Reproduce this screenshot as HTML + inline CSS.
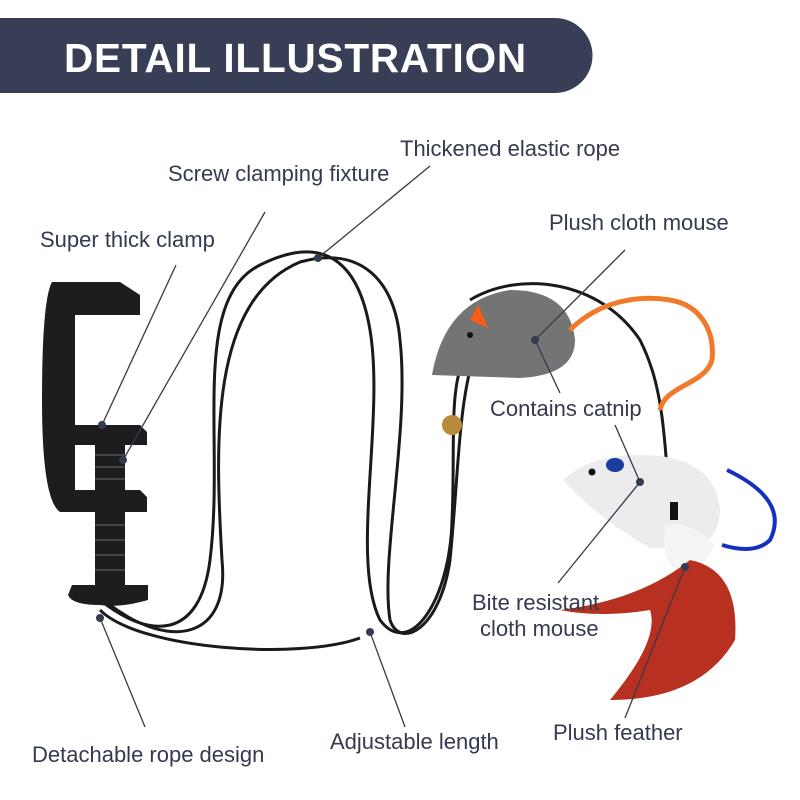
<!DOCTYPE html>
<html><head><meta charset="utf-8"><style>
html,body{margin:0;padding:0;background:#fff;}
svg{display:block}
text{font-family:"Liberation Sans",sans-serif;fill:#343a4f;font-size:22px}
</style></head><body>
<svg width="800" height="800" viewBox="0 0 800 800" xmlns="http://www.w3.org/2000/svg">
<rect width="800" height="800" fill="#fff"/>
<path d="M0 18 H555 A37 37 0 0 1 555 93 H0 Z" fill="#383e55"/>
<text x="64" y="72" style="font-size:40.5px;font-weight:bold;fill:#fff;letter-spacing:0.8px">DETAIL ILLUSTRATION</text>

<!-- ropes -->
<g fill="none" stroke="#1a1a1a" stroke-width="3">
<path d="M100 600 C150 640 200 640 210 560 C225 440 190 300 260 265 C330 230 360 270 370 330 C385 420 350 560 380 620 C410 660 450 600 452 520 C455 460 450 400 460 370"/>
<path d="M110 605 C170 650 230 640 222 560 C215 440 210 300 300 262 C360 245 395 280 400 340 C410 430 380 560 390 620 C400 650 440 630 450 560 C458 480 458 420 470 370"/>
<path d="M100 610 C140 650 300 660 360 638"/>
<path d="M470 300 C520 270 600 280 640 340 C660 380 665 420 670 520"/>
</g>
<!-- clamp -->
<g fill="#1d1d1f">
<path d="M52 282 H120 L140 295 V315 H75 V425 H140 L147 432 V445 H75 V490 H140 L147 497 V512 H60 Q42 500 42 400 Q42 300 52 282 Z"/>
<rect x="95" y="445" width="30" height="140"/>
<path d="M72 585 H148 V600 Q120 608 100 605 Q72 605 68 595 Z"/>
</g>
<g stroke="#444" stroke-width="2">
<line x1="95" y1="455" x2="125" y2="455"/><line x1="95" y1="467" x2="125" y2="467"/><line x1="95" y1="479" x2="125" y2="479"/>
<line x1="95" y1="525" x2="125" y2="525"/><line x1="95" y1="540" x2="125" y2="540"/><line x1="95" y1="555" x2="125" y2="555"/><line x1="95" y1="570" x2="125" y2="570"/>
</g>
<!-- grey mouse -->
<path d="M432 375 Q445 300 510 290 Q570 290 575 340 Q575 375 520 378 Z" fill="#747474"/>
<path d="M470 320 L478 305 L488 328 Z" fill="#ff5a14"/>
<circle cx="470" cy="335" r="3" fill="#111"/>
<path d="M570 330 C600 300 640 295 670 300 C700 305 715 330 712 360 C705 385 665 385 660 410" fill="none" stroke="#f07a2a" stroke-width="5"/>
<circle cx="452" cy="425" r="10" fill="#b88a3a"/>
<!-- white mouse -->
<path d="M563 480 Q590 455 640 455 Q715 455 720 510 Q718 545 690 548 L650 548 Q600 520 563 480 Z" fill="#ececec"/>
<ellipse cx="615" cy="465" rx="9" ry="7" fill="#1b3ca0"/>
<circle cx="592" cy="472" r="3.5" fill="#111"/>
<path d="M727 470 Q790 500 770 540 Q755 555 722 545" fill="none" stroke="#1530c0" stroke-width="4"/>
<rect x="670" y="502" width="8" height="18" fill="#111"/>
<path d="M665 525 Q690 520 715 545 Q700 575 680 575 Q660 560 665 525 Z" fill="#f4f4f4"/>
<path d="M690 560 Q740 570 735 640 Q700 700 610 700 Q660 640 650 610 Q600 618 560 610 Q640 600 690 560 Z" fill="#b8301f"/>
<!-- leader lines -->
<g stroke="#343a4f" stroke-width="1.3" fill="none">
<line x1="102" y1="425" x2="176" y2="265"/>
<line x1="123" y1="460" x2="265" y2="212"/>
<line x1="318" y1="258" x2="430" y2="166"/>
<line x1="535" y1="340" x2="625" y2="250"/>
<line x1="535" y1="340" x2="560" y2="393"/>
<line x1="615" y1="425" x2="640" y2="482"/>
<line x1="640" y1="482" x2="558" y2="583"/>
<line x1="685" y1="567" x2="625" y2="718"/>
<line x1="100" y1="618" x2="145" y2="727"/>
<line x1="370" y1="632" x2="405" y2="727"/>
</g>
<g fill="#343a4f">
<circle cx="102" cy="425" r="4"/><circle cx="123" cy="460" r="4"/><circle cx="318" cy="258" r="4"/>
<circle cx="535" cy="340" r="4"/><circle cx="640" cy="482" r="4"/><circle cx="685" cy="567" r="4"/>
<circle cx="100" cy="618" r="4"/><circle cx="370" cy="632" r="4"/>
</g>
<text x="400" y="156">Thickened elastic rope</text>
<text x="168" y="181">Screw clamping fixture</text>
<text x="40" y="247">Super thick clamp</text>
<text x="549" y="230">Plush cloth mouse</text>
<text x="490" y="416">Contains catnip</text>
<text x="472" y="610">Bite resistant</text>
<text x="480" y="636">cloth mouse</text>
<text x="553" y="740">Plush feather</text>
<text x="32" y="762">Detachable rope design</text>
<text x="330" y="749">Adjustable length</text>
</svg>
</body></html>
